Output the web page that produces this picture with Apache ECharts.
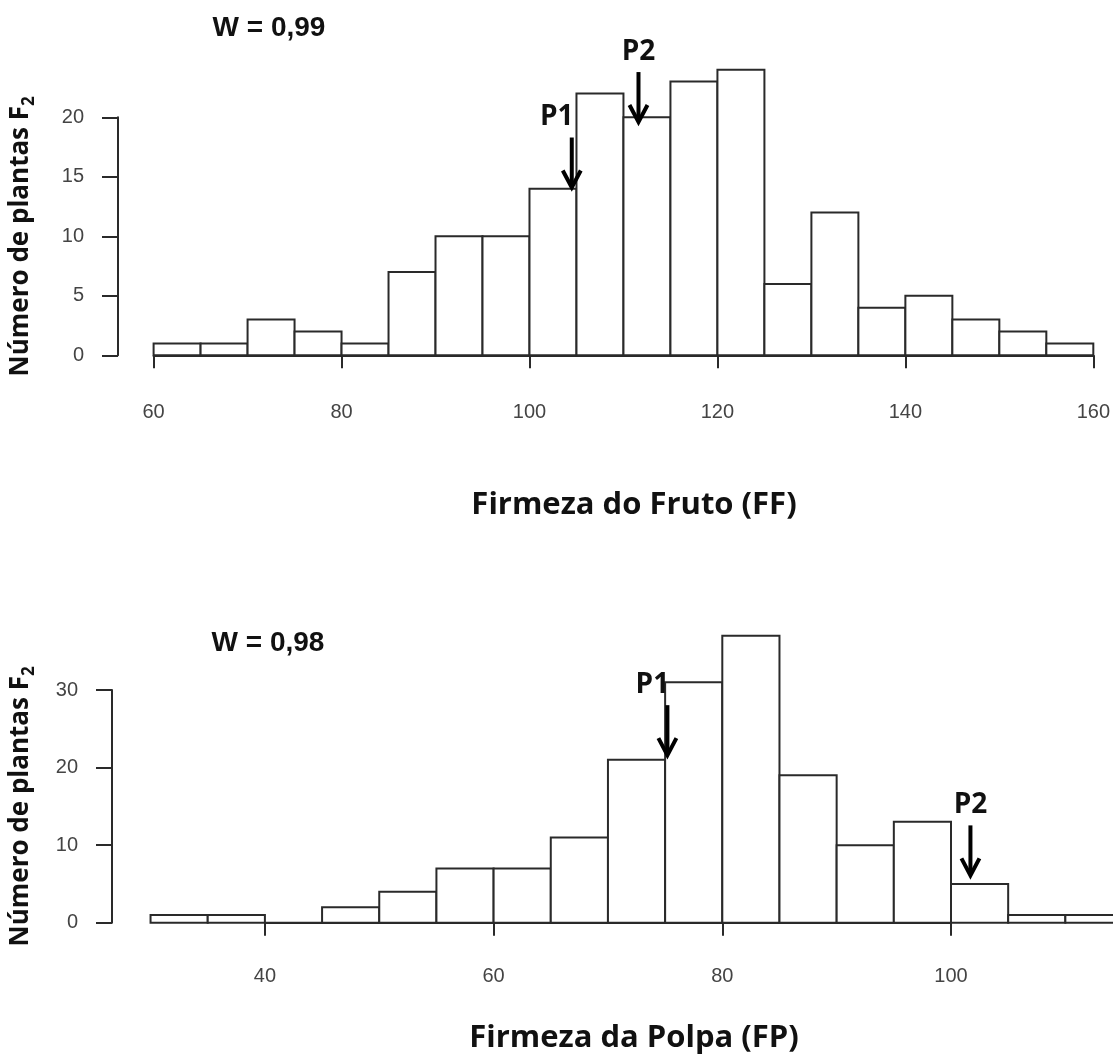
<!DOCTYPE html>
<html>
<head>
<meta charset="utf-8">
<title>Firmeza do Fruto e Firmeza da Polpa - F2</title>
<script src="https://cdn.jsdelivr.net/npm/echarts@6/dist/echarts.min.js"></script>
<style>
  html, body { margin: 0; padding: 0; background: #fff; }
  #chart { width: 1113px; height: 1055px; }
</style>
</head>
<body>
<div id="chart"></div>
<script>
// Firmeza do Fruto (FF) - limites das classes e número de plantas por classe
const ffEdges = [60, 65, 70, 75, 80, 85, 90, 95, 100, 105, 110, 115, 120, 125, 130, 135, 140, 145, 150, 155, 160];
const ffCounts = [1, 1, 3, 2, 1, 7, 10, 10, 14, 22, 20, 23, 24, 6, 12, 4, 5, 3, 2, 1];
const ffXTicks = [60, 80, 100, 120, 140, 160];
const ffYTicks = [0, 5, 10, 15, 20];
const ffParents = [['P1', 104.5, 14.1], ['P2', 111.6, 19.6]];
const ffW = 'W = 0,99';

// Firmeza da Polpa (FP)
const fpEdges = [30, 35, 40, 45, 50, 55, 60, 65, 70, 75, 80, 85, 90, 95, 100, 105, 110, 115];
const fpCounts = [1, 1, 0, 2, 4, 7, 7, 11, 21, 31, 37, 19, 10, 13, 5, 1, 1];
const fpXTicks = [40, 60, 80, 100];
const fpYTicks = [0, 10, 20, 30];
const fpParents = [['P1', 75.2, 21.6], ['P2', 101.7, 6.1]];
const fpW = 'W = 0,98';

const yTitle = '{t|Número de plantas F}{s|2}';
const ffTitle = 'Firmeza do Fruto (FF)';
const fpTitle = 'Firmeza da Polpa (FP)';

// estilos
const lineColor = '#2a2a2a';
const labelColor = '#444';
const boldFont = '"Open Sans", "Noto Sans", sans-serif';
const tickFont = '"Liberation Sans", Arial, sans-serif';
const labelShift = { P1: -15, P2: 0 };

function bins(edges, counts) {
  return counts.map((c, i) => [edges[i], edges[i + 1], c]);
}

function renderBin(params, api) {
  const lo = api.coord([api.value(0), 0]);
  const hi = api.coord([api.value(1), api.value(2)]);
  return {
    type: 'rect',
    shape: { x: lo[0], y: hi[1], width: hi[0] - lo[0], height: lo[1] - hi[1] },
    style: { fill: '#fff', stroke: lineColor, lineWidth: 2 }
  };
}

function arrowRenderer(parents) {
  return function (params, api) {
    const tip = api.coord([api.value(0), api.value(1)]);
    const name = parents[params.dataIndex][0];
    const x = tip[0], y = tip[1];
    return {
      type: 'group',
      children: [
        { type: 'line', shape: { x1: x, y1: y - 50, x2: x, y2: y - 2 },
          style: { stroke: '#000', lineWidth: 4 } },
        { type: 'polyline', shape: { points: [[x - 9, y - 17], [x, y], [x + 9, y - 17]] },
          style: { stroke: '#000', lineWidth: 4, fill: null } },
        { type: 'text', x: x + labelShift[name], y: y - 70,
          style: { text: name, fontFamily: boldFont, fontWeight: 'bold', fontSize: 28,
                   fill: '#111', align: 'center', verticalAlign: 'middle' } }
      ]
    };
  };
}

function xAxisOf(gridIndex, ticks, offset, margin) {
  return {
    type: 'value', gridIndex: gridIndex,
    min: ticks[0], max: ticks[ticks.length - 1], interval: ticks[1] - ticks[0],
    offset: offset,
    axisLine: { lineStyle: { color: lineColor, width: 2 } },
    axisTick: { length: 13, lineStyle: { color: lineColor, width: 2 } },
    axisLabel: { margin: margin, color: labelColor, fontFamily: tickFont, fontSize: 20 },
    splitLine: { show: false }
  };
}

function yAxisOf(gridIndex, ticks, offset, margin, nameGap) {
  return {
    type: 'value', gridIndex: gridIndex,
    min: ticks[0], max: ticks[ticks.length - 1], interval: ticks[1] - ticks[0],
    offset: offset,
    name: yTitle, nameLocation: 'middle', nameRotate: 90, nameGap: nameGap,
    nameTextStyle: {
      rich: {
        t: { fontFamily: boldFont, fontWeight: 'bold', fontSize: 26, lineHeight: 34, color: '#111' },
        s: { fontFamily: boldFont, fontWeight: 'bold', fontSize: 17, lineHeight: 17, color: '#111', verticalAlign: 'bottom' }
      }
    },
    axisLine: { show: true, lineStyle: { color: lineColor, width: 2 } },
    axisTick: { show: true, length: 16, lineStyle: { color: lineColor, width: 2 } },
    axisLabel: { margin: margin, color: labelColor, fontFamily: tickFont, fontSize: 20 },
    splitLine: { show: false }
  };
}

function freeText(text, x, y, font, size) {
  return {
    type: 'text', x: x, y: y,
    style: { text: text, fontFamily: font, fontWeight: 'bold', fontSize: size,
             fill: '#111', align: 'center', verticalAlign: 'middle' }
  };
}

const chart = echarts.init(document.getElementById('chart'));
chart.setOption({
  animation: false,
  backgroundColor: '#fff',
  grid: [
    { left: 152.3, top: 117.3, width: 942, height: 238 },
    { left: 263.6, top: 690, width: 687.4, height: 232.7 }
  ],
  xAxis: [
    xAxisOf(0, ffXTicks, 11.5, 36),
    xAxisOf(1, fpXTicks, 10.6, 33)
  ],
  yAxis: [
    yAxisOf(0, ffYTicks, 35.6, 34, 80),
    yAxisOf(1, fpYTicks, 152.9, 34, 74)
  ],
  graphic: [
    freeText(ffW, 269, 28, tickFont, 28),
    freeText(ffTitle, 634, 505, boldFont, 31),
    freeText(fpW, 268, 643, tickFont, 28),
    freeText(fpTitle, 634, 1038, boldFont, 31)
  ],
  series: [
    {
      type: 'custom', name: 'FF', xAxisIndex: 0, yAxisIndex: 0,
      dimensions: ['inicio', 'fim', 'plantas'],
      encode: { x: [0, 1], y: 2 },
      renderItem: renderBin, silent: true,
      data: bins(ffEdges, ffCounts)
    },
    {
      type: 'custom', name: 'FF pais', xAxisIndex: 0, yAxisIndex: 0, z: 5,
      encode: { x: 0, y: 1 },
      renderItem: arrowRenderer(ffParents), silent: true,
      data: ffParents.map(p => [p[1], p[2]])
    },
    {
      type: 'custom', name: 'FP', xAxisIndex: 1, yAxisIndex: 1,
      dimensions: ['inicio', 'fim', 'plantas'],
      encode: { x: [0, 1], y: 2 },
      renderItem: renderBin, silent: true,
      data: bins(fpEdges, fpCounts)
    },
    {
      type: 'custom', name: 'FP pais', xAxisIndex: 1, yAxisIndex: 1, z: 5,
      encode: { x: 0, y: 1 },
      renderItem: arrowRenderer(fpParents), silent: true,
      data: fpParents.map(p => [p[1], p[2]])
    }
  ]
});
</script>
</body>
</html>
